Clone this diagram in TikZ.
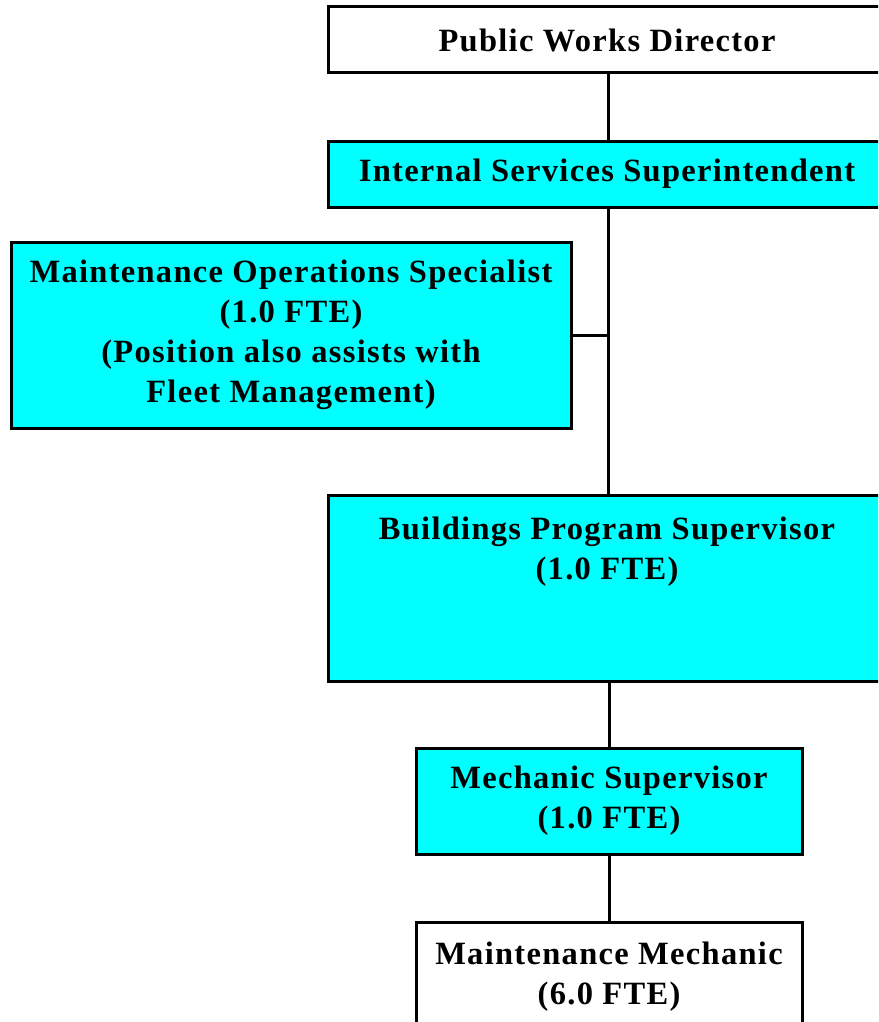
\documentclass[tikz,border=0pt]{standalone}
\usepackage{fontspec}
\setmainfont{Liberation Serif}
\newfontfamily\orgfont[LetterSpace=4.0]{Liberation Serif}
\definecolor{boxcyan}{HTML}{00FFFF}
\begin{document}
\begin{tikzpicture}[x=1pt,y=1pt,
  orgbox/.style={draw=black, line width=3pt, inner sep=0pt, align=center,
    font=\orgfont\bfseries\fontsize{32.5}{40}\selectfont},
  cyanbox/.style={orgbox, fill=boxcyan},
  whitebox/.style={orgbox, fill=white},
  link/.style={draw=black, line width=3pt}]
\useasboundingbox (0,0) rectangle (878,-1022);
\clip (0,0) rectangle (878,-1022);
\fill[white] (0,0) rectangle (878,-1022);

\node[whitebox, minimum width=558, minimum height=66] (pwd) at (607,-40)
  {Public Works Director};
\node[cyanbox, minimum width=558, minimum height=66] (iss) at (607,-174)
  {Internal Services Superintendent};
\node[cyanbox, minimum width=560, minimum height=186] (mos) at (291,-335)
  {Maintenance Operations Specialist\\(1.0 FTE)\\(Position also assists with\\Fleet Management)};
\node[cyanbox, minimum width=558, minimum height=186] (bps) at (607,-588)
  {Buildings Program Supervisor\\(1.0 FTE)\\~\\~};
\node[cyanbox, minimum width=386, minimum height=106] (ms) at (609,-801)
  {Mechanic Supervisor\\(1.0 FTE)};
\node[whitebox, minimum width=386, minimum height=110] (mm) at (609,-977)
  {Maintenance Mechanic\\(6.0 FTE)};

\coordinate (trunk) at ([xshift=1pt]iss.south |- mos.east);
\draw[link] ([xshift=1pt]pwd.south) -- ([xshift=1pt]iss.north);
\draw[link] ([xshift=1pt]iss.south) -- ([xshift=1pt]bps.north);
\draw[link] (mos.east) -- (trunk);
\draw[link] (ms.north |- bps.south) -- (ms.north);
\draw[link] (ms.south) -- (mm.north);
\end{tikzpicture}
\end{document}
